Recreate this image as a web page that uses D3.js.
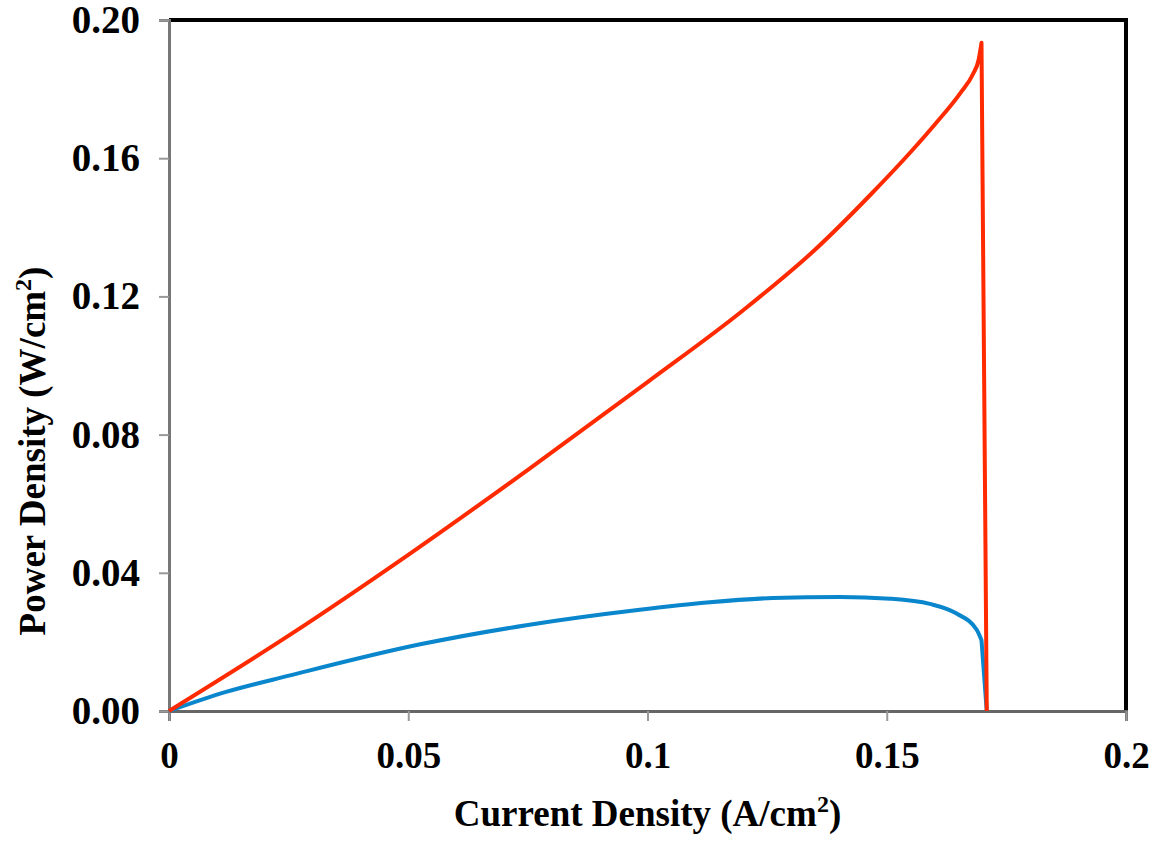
<!DOCTYPE html>
<html>
<head>
<meta charset="utf-8">
<script src="https://cdn.jsdelivr.net/npm/d3@7/dist/d3.min.js"></script>
<style>
  html, body { margin: 0; padding: 0; background: #fff; }
  svg { display: block; }
  text { font-family: "Liberation Serif", "Times New Roman", serif; font-weight: bold; fill: #000; }
</style>
</head>
<body>
<svg id="chart" width="1156" height="842"></svg>
<script>
// Data
const redX = [0, 0.025, 0.05, 0.075, 0.1, 0.12, 0.135, 0.147, 0.155, 0.16, 0.1653, 0.168, 0.1692, 0.1698, 0.1709];
const redY = [0, 0.0218, 0.0452, 0.0698, 0.0952, 0.1160, 0.1335, 0.1500, 0.1618, 0.1697, 0.1787, 0.1843, 0.1885, 0.1934, 0];

const blueX = [0, 0.0121, 0.0253, 0.0525, 0.075, 0.0984, 0.1124, 0.1262, 0.1402, 0.1507, 0.159, 0.1646, 0.1688, 0.1698, 0.1709];
const blueY = [0, 0.0056, 0.0103, 0.0193, 0.0249, 0.0293, 0.0314, 0.0327, 0.0330, 0.0325, 0.0310, 0.0282, 0.0235, 0.0205, 0];

const xTicks = [0, 0.05, 0.1, 0.15, 0.2];
const xTickLabels = ["0", "0.05", "0.1", "0.15", "0.2"];
const yTicks = [0, 0.04, 0.08, 0.12, 0.16, 0.20];
const yTickLabels = ["0.00", "0.04", "0.08", "0.12", "0.16", "0.20"];

const xTitle = ["Current Density (A/cm", "2", ")"];
const yTitle = ["Power Density (W/cm", "2", ")"];

const svg = d3.select("#chart");
const L = 169, R = 1126, T = 20, B = 711;

const x = d3.scaleLinear().domain([0, 0.2]).range([L, R]);
const y = d3.scaleLinear().domain([0, 0.2]).range([B, T]);

// Top and right borders (black)
svg.append("line").attr("x1", L).attr("x2", R + 2).attr("y1", T).attr("y2", T)
  .attr("stroke", "#000").attr("stroke-width", 4);
svg.append("line").attr("x1", R).attr("x2", R).attr("y1", T - 2).attr("y2", B)
  .attr("stroke", "#000").attr("stroke-width", 4);

// Y axis
const yAxis = d3.axisLeft(y).tickValues(yTicks).tickFormat((d, i) => yTickLabels[i]).tickSize(10).tickPadding(19);
const gy = svg.append("g").attr("transform", `translate(${L},0)`).call(yAxis);
gy.select(".domain").attr("stroke", "#777").attr("stroke-width", 3);
gy.selectAll(".tick line").attr("stroke", "#999").attr("stroke-width", 2);
gy.selectAll(".tick text").style("font-size", "39px").style("font-family", "Liberation Serif").style("font-weight", "bold").attr("fill", "#000");

// X axis
const xAxis = d3.axisBottom(x).tickValues(xTicks).tickFormat((d, i) => xTickLabels[i]).tickSize(10).tickPadding(21);
const gx = svg.append("g").attr("transform", `translate(0,${B})`).call(xAxis);
gx.select(".domain").attr("stroke", "#666").attr("stroke-width", 3);
gx.selectAll(".tick line").attr("stroke", "#999").attr("stroke-width", 2);
gx.selectAll(".tick text").style("font-size", "37px").style("font-family", "Liberation Serif").style("font-weight", "bold").attr("fill", "#000");

// Series: smooth rise, then straight drop to the last point
const smooth = d3.line().x(d => x(d[0])).y(d => y(d[1])).curve(d3.curveMonotoneX);
function seriesPath(xs, ys) {
  const pts = xs.map((v, i) => [v, ys[i]]);
  const last = pts[pts.length - 1];
  return smooth(pts.slice(0, -1)) + "L" + x(last[0]) + "," + y(last[1]);
}

svg.append("path").attr("d", seriesPath(blueX, blueY))
  .attr("fill", "none").attr("stroke", "#0A86CC").attr("stroke-width", 4).attr("stroke-linejoin", "round");
svg.append("path").attr("d", seriesPath(redX, redY))
  .attr("fill", "none").attr("stroke", "#FF2A00").attr("stroke-width", 4).attr("stroke-linejoin", "round");

// Axis titles
function addTitle(sel, parts) {
  sel.append("tspan").text(parts[0]);
  sel.append("tspan").attr("dy", -14).style("font-size", "24px").text(parts[1]);
  sel.append("tspan").attr("dy", 14).text(parts[2]);
}
const xt = svg.append("text").attr("x", (L + R) / 2).attr("y", 826).attr("text-anchor", "middle")
  .style("font-size", "37px");
addTitle(xt, xTitle);
const yt = svg.append("text").attr("transform", `translate(45,451) rotate(-90)`).attr("text-anchor", "middle")
  .style("font-size", "37px");
addTitle(yt, yTitle);
</script>
</body>
</html>
